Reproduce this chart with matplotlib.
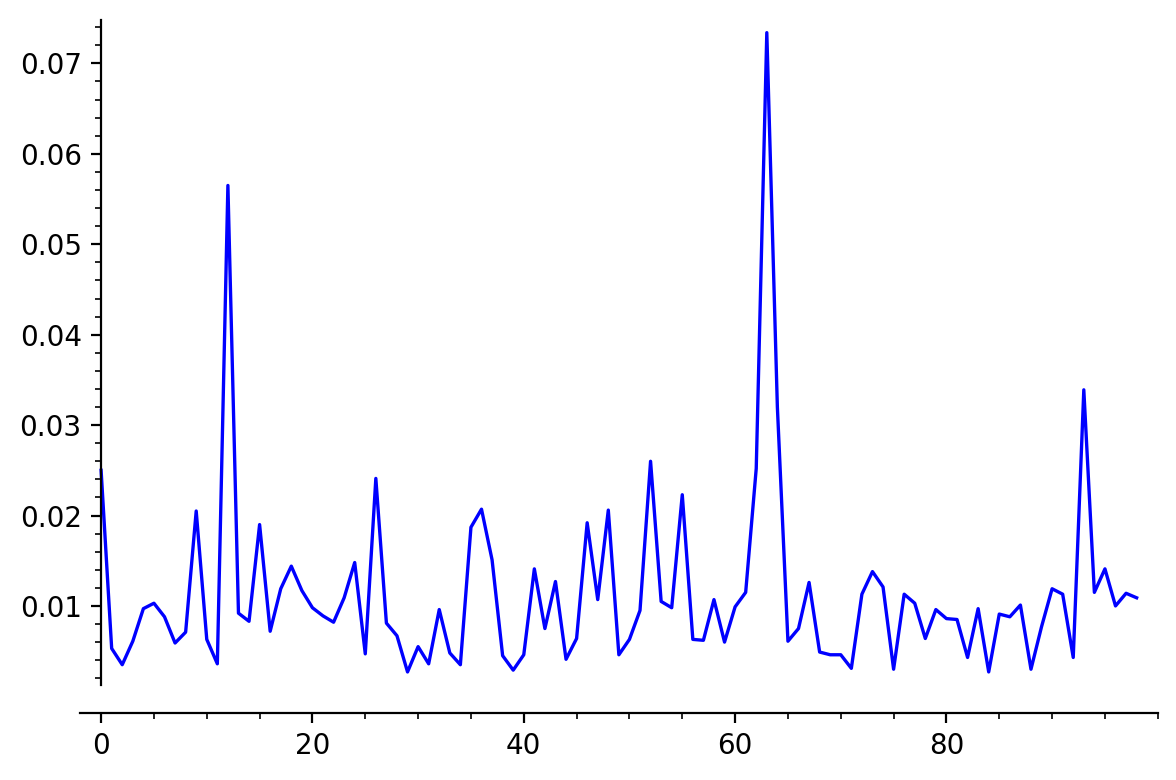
import numpy as np
import matplotlib as mpl
mpl.use('Agg')
import matplotlib.pyplot as plt
from matplotlib.ticker import FixedLocator, MultipleLocator

# values, one per integer x from 0 to 98
values = [
    0.0250, 0.0053, 0.0035, 0.0061, 0.0097, 0.0103, 0.0088, 0.0059, 0.0071, 0.0205,
    0.0063, 0.0036, 0.0565, 0.0092, 0.0083, 0.0190, 0.0072, 0.0119, 0.0144, 0.0117,
    0.0098, 0.0089, 0.0082, 0.0109, 0.0148, 0.0047, 0.0241, 0.0081, 0.0067, 0.0027,
    0.0055, 0.0036, 0.0096, 0.0048, 0.0035, 0.0187, 0.0207, 0.0151, 0.0045, 0.0029,
    0.0046, 0.0141, 0.0075, 0.0127, 0.0041, 0.0064, 0.0192, 0.0107, 0.0206, 0.0046,
    0.0063, 0.0095, 0.0260, 0.0105, 0.0098, 0.0223, 0.0063, 0.0062, 0.0107, 0.0060,
    0.0099, 0.0115, 0.0252, 0.0734, 0.0320, 0.0061, 0.0075, 0.0126, 0.0049, 0.0046,
    0.0046, 0.0031, 0.0113, 0.0138, 0.0121, 0.0030, 0.0113, 0.0103, 0.0064, 0.0096,
    0.0086, 0.0085, 0.0043, 0.0097, 0.0027, 0.0091, 0.0088, 0.0101, 0.0030, 0.0077,
    0.0119, 0.0113, 0.0043, 0.0339, 0.0115, 0.0141, 0.0100, 0.0114, 0.0109,
]
xs = np.arange(len(values))

x_major = [0, 20, 40, 60, 80]
y_major = [0.01, 0.02, 0.03, 0.04, 0.05, 0.06, 0.07]

fig = plt.figure(figsize=(5.88, 3.9), dpi=200)
ax = fig.add_axes([0.068, 0.0859, 0.9165, 0.8881])
ax.plot(xs, values, color='blue', lw=1.2)

ax.set_xlim(-2, 100)
ax.set_ylim(-0.00184, 0.07477)

# sage style axes: y axis at x=0, x axis below the data
ax.spines['top'].set_visible(False)
ax.spines['right'].set_visible(False)
ax.spines['left'].set_position(('data', 0))
ax.spines['left'].set_bounds(0.00125, 0.07477)

ax.xaxis.set_major_locator(FixedLocator(x_major))
ax.xaxis.set_minor_locator(MultipleLocator(5))
ax.yaxis.set_major_locator(FixedLocator(y_major))
ax.yaxis.set_minor_locator(FixedLocator(np.arange(0.002, 0.0745, 0.002)))
ax.set_yticklabels(['%.2f' % v for v in y_major])

plt.savefig('out.png', dpi=200)
